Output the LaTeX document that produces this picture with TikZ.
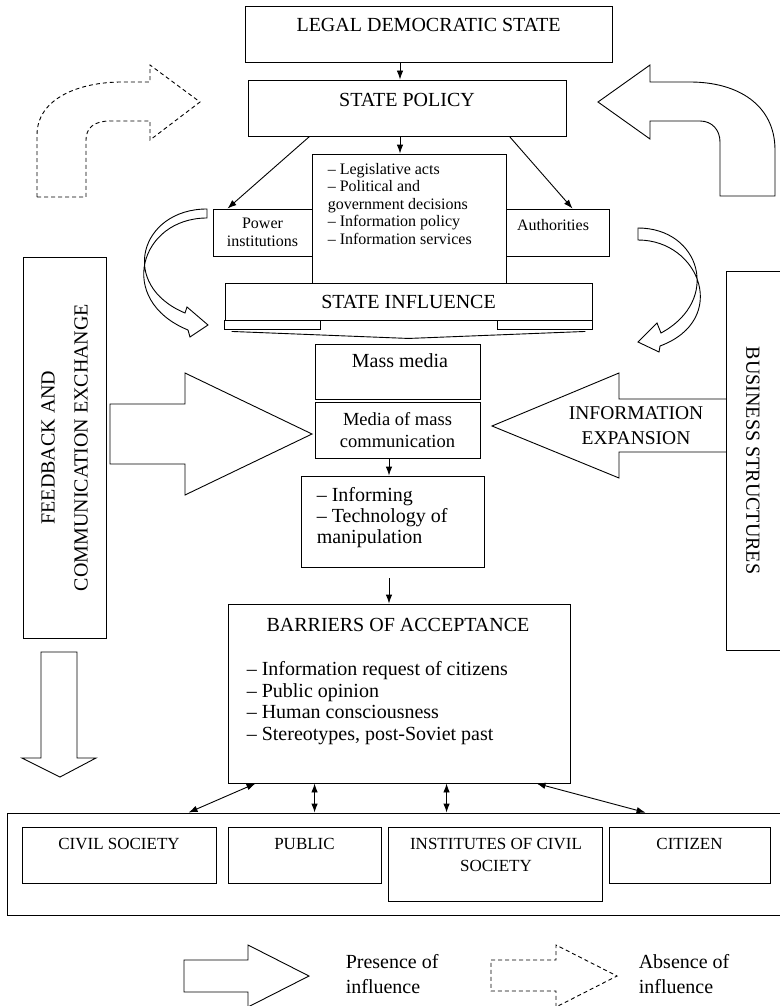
\documentclass[tikz,border=0pt]{standalone}
\usepackage{fontspec}
\setmainfont{Liberation Serif}
\usetikzlibrary{arrows.meta}

\tikzset{
  box/.style={draw, line width=0.9pt, inner sep=0pt},
  big/.style={font=\fontsize{20}{24}\selectfont},
  mid/.style={font=\fontsize{17}{22}\selectfont},
  small/.style={font=\fontsize{16}{17.5}\selectfont},
  ghost/.style={dashed, dash pattern=on 4pt off 3pt},
}

\begin{document}
\begin{tikzpicture}[x=1pt, y=-1pt, >={Latex[length=9pt,width=6.5pt]}, line width=0.9pt]
  \useasboundingbox (0,0) rectangle (779,1006);

  % state level
  \node[box, minimum width=367pt, minimum height=56pt] (lds) at (428.5,34) {};
  \node[big] (ldstext) at (428.5,25) {LEGAL DEMOCRATIC STATE};
  \node[box, minimum width=318pt, minimum height=56pt] (policy) at (407,108) {};
  \node[big] (policytext) at (407,100) {STATE POLICY};

  \node[box, minimum width=194pt, minimum height=129pt] (tools) at (409,218.5) {};
  \node[small, anchor=west, align=left] (toolstext) at (324,204)
    {– Legislative acts\\– Political and\\government decisions\\– Information policy\\– Information services};
  \node[box, small, align=center, minimum width=99pt, minimum height=47pt] (power) at (262.5,232.5) {Power\\institutions};
  \node[box, minimum width=103pt, minimum height=47pt] (authorities) at (557.5,232.5) {};
  \node[small] (authtext) at (553,225) {Authorities};

  \coordinate (axis) at (400,0);
  \draw[->] (lds.south -| axis) -- (policy.north -| axis);
  \draw[->] (policy.south -| axis) -- (tools.north -| axis);
  \draw[->] ([xshift=62pt]policy.south west) -- ([xshift=-35pt]power.north);
  \draw[->] ([xshift=-57pt]policy.south east) -- ([xshift=15pt]authorities.north);

  % state influence banner
  \node[box, big, minimum width=367pt, minimum height=37pt] (infl) at (408.5,301.5) {STATE INFLUENCE};
  \draw (infl.south west) -- ++(0,9) -- ++(96,0) -- ++(0,-9);
  \draw (infl.south east) -- ++(0,9) -- ++(-95,0) -- ++(0,-9);
  \draw ([xshift=7pt,yshift=-11pt]infl.south west) -- ([yshift=-18pt]infl.south)
    -- ([xshift=-7pt,yshift=-11pt]infl.south east);

  % curved arrows round the state block
  \draw[ghost] (37,197) -- (37,135) .. controls (37,98) and (80,82) .. (122,82) -- (150,82) -- (150,65)
    -- (200,102) -- (150,140) -- (150,121) -- (110,121) .. controls (94,121) and (86,128) .. (86,140) -- (86,197) -- cycle;
  \draw (598,102) -- (650,65) -- (650,82) -- (690,82) .. controls (738,82) and (775,105) .. (775,150) -- (775,196)
    -- (720,196) -- (720,142) .. controls (720,130) and (712,121) .. (700,121) -- (650,121) -- (650,139) -- cycle;
  \draw (207,209) .. controls (140,209) and (118,285) .. (185,313) -- (187,307) -- (208,325) -- (190,337)
    -- (188,330) .. controls (115,300) and (140,218) .. (207,218) -- cycle;
  \draw (638,228) .. controls (700,228) and (722,300) .. (661,333) -- (657,323) -- (638,342) -- (659,352)
    -- (660,346) .. controls (730,320) and (700,240) .. (638,240) -- cycle;

  % media
  \node[box, minimum width=165pt, minimum height=55pt] (mass) at (397.5,371.5) {};
  \node[big] (masstext) at (400,361) {Mass media};
  \node[box, align=center, font=\fontsize{18.5}{22}\selectfont, minimum width=165pt, minimum height=56pt] (media) at (397.5,430)
    {Media of mass\\communication};
  \node[box, minimum width=183pt, minimum height=91pt] (inform) at (392.5,521.5) {};
  \node[anchor=west, align=left, font=\fontsize{20}{21}\selectfont] (informtext) at (313,518)
    {– Informing\\– Technology of\\manipulation};
  \coordinate (axisb) at (389,0);
  \draw[->] (media.south -| axisb) -- (inform.north -| axisb);

  % side blocks
  \node[box, rotate=90, align=center, font=\fontsize{20}{33}\selectfont, minimum width=381pt, minimum height=83pt]
    (feedback) at (64.5,447.5) {FEEDBACK AND\\COMMUNICATION EXCHANGE};
  \node[box, big, rotate=-90, minimum width=379pt, minimum height=54pt] (business) at (753,460.5) {BUSINESS STRUCTURES};
  \draw (110,404) -- (185,404) -- (185,373) -- (312,434) -- (185,495) -- (185,464) -- (110,464) -- cycle;
  \draw (726,399) -- (619,399) -- (619,373) -- (492,426) -- (619,478) -- (619,452) -- (726,452);
  \node[align=center, font=\fontsize{19.5}{25}\selectfont] (exptext) at (636,425.5) {INFORMATION\\EXPANSION};
  \draw (41,652) -- (77,652) -- (77,758) -- (96,758) -- (60,777) -- (22,758) -- (41,758) -- cycle;

  % barriers
  \node[box, minimum width=342pt, minimum height=179pt] (barriers) at (399,693.5) {};
  \node[big] (barrtitle) at (398,625) {BARRIERS OF ACCEPTANCE};
  \node[anchor=west, align=left, font=\fontsize{20}{21.7}\selectfont] (barrlist) at (243,703)
    {– Information request of citizens\\– Public opinion\\– Human consciousness\\– Stereotypes, post-Soviet past};
  \draw[->] ([xshift=-3.5pt,yshift=-11pt]inform.south) -- ([xshift=-10pt]barriers.north);

  % society
  \node[box, minimum width=774pt, minimum height=102pt] (outer) at (394,864) {};
  \node[box, minimum width=194pt, minimum height=56pt] (civil) at (119,855) {};
  \node[mid] (civiltext) at (119,844) {CIVIL SOCIETY};
  \node[box, minimum width=153pt, minimum height=56pt] (public) at (304.5,855) {};
  \node[mid] (publictext) at (304.5,844) {PUBLIC};
  \node[box, minimum width=214pt, minimum height=74pt] (inst) at (495,864) {};
  \node[mid, align=center] (insttext) at (496,855) {INSTITUTES OF CIVIL\\SOCIETY};
  \node[box, minimum width=161pt, minimum height=56pt] (citizen) at (689.5,855) {};
  \node[mid] (citizentext) at (689.5,844) {CITIZEN};
  \draw[<->] ([xshift=182pt]outer.north west) -- ([xshift=28pt]barriers.south west);
  \draw[<->] ([xshift=308pt]outer.north west) -- ([xshift=87pt]barriers.south west);
  \draw[<->] ([xshift=440pt]outer.north west) -- ([xshift=219pt]barriers.south west);
  \draw[<->] ([xshift=639pt]outer.north west) -- ([xshift=309pt]barriers.south west);

  % legend
  \draw (184,960) -- (248,960) -- (248,945) -- (309,976) -- (248,1007) -- (248,992) -- (184,992) -- cycle;
  \node[anchor=west, align=left, font=\fontsize{20}{25}\selectfont] (presence) at (342,974.5) {Presence of\\influence};
  \draw[ghost] (491,960) -- (556,960) -- (556,945) -- (617,976) -- (556,1007) -- (556,991) -- (491,991) -- cycle;
  \node[anchor=west, align=left, font=\fontsize{20}{25}\selectfont] (absence) at (635,974.5) {Absence of\\influence};
\end{tikzpicture}
\end{document}
